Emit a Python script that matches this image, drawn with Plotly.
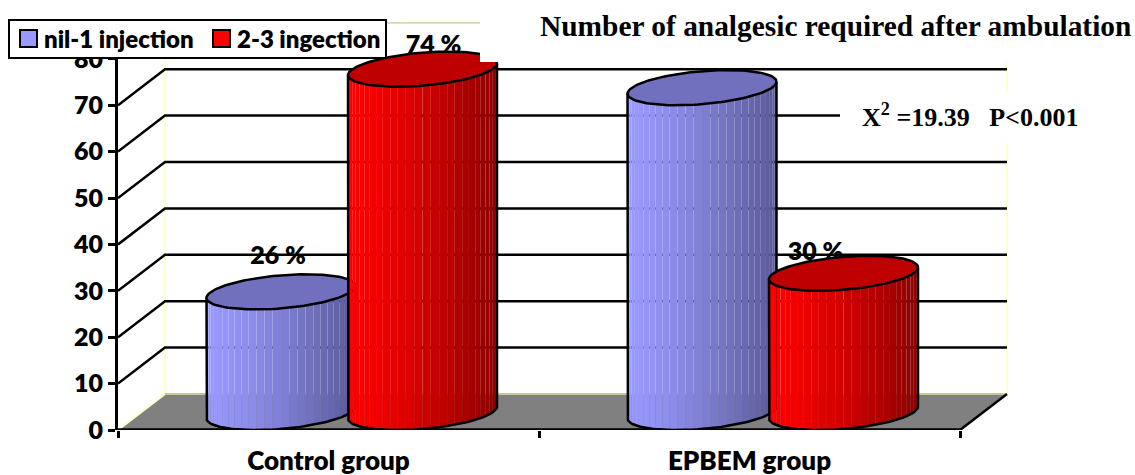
import math
import plotly.graph_objects as go

categories = ["Control group", "EPBEM group"]
series_names = ["nil-1 injection", "2-3 ingection"]
nil_values = [26, 70]
high_values = [74, 30]
y_ticks = [0, 10, 20, 30, 40, 50, 60, 70, 80]
grid_values = [10, 20, 30, 40, 50, 60, 70]
bar_labels = {(0, 0): "26 %", (1, 0): "74 %", (1, 1): "30 %"}

W, H = 1135, 475
L, R, T, B = 118, 127, 22, 45
PX_X = 421.0
PX_Y = 4.64
XMIN = -0.5
XMAX = XMIN + (W - L - R) / PX_X
YMAX = (H - T - B) / PX_Y
DX = 47 / PX_X
DY = 36 / PX_Y
BASE = 17.5 / PX_Y
A = 74.5 / PX_X
B_PX = 16.5
SHEAR = 6.0
OFFS = [-47.5 / PX_X, 94.0 / PX_X]   # series offset from category centre
N = 28
PALETTE = [
    dict(light=(153, 153, 255), dark=(88, 88, 150), top="#7070BE"),
    dict(light=(255, 0, 0), dark=(140, 0, 0), top="#BF0000"),
]
LABEL_FONT = dict(family="Lato", color="black", weight=800)


def px(v):
    return (v - L) / (W - L - R)


def py(v):
    return (H - B - v) / (H - T - B)


def ell(cx, level, t):
    xv = cx + A * math.cos(t)
    yv = level + BASE - (B_PX * math.sin(t) - SHEAR * math.cos(t)) / PX_Y
    return xv, yv


fig = go.Figure()


def line(xs, ys, color, width):
    fig.add_trace(go.Scatter(x=xs, y=ys, mode="lines", line=dict(color=color, width=width),
                             showlegend=False, hoverinfo="skip"))


x0 = XMIN
x1 = XMIN + 2.0
# floor
fig.add_trace(go.Scatter(x=[x0, x0 + DX, x1 + DX, x1, x0], y=[0, DY, DY, 0, 0], mode="lines",
                         fill="toself", fillcolor="#808080", line=dict(width=0),
                         showlegend=False, hoverinfo="skip"))
# walls
line([x0, x0 + DX, x0 + DX], [0, DY, 80 + DY], "#FFFFCC", 2)
line([x1 + DX, x1 + DX], [DY, 70 + DY + 1.5], "#FFFFCC", 2)
line([x0 + DX, x1 + DX], [DY, DY], "#C8C890", 2)
line([x0 + DX, XMIN + (480 - L) / PX_X], [80 + DY, 80 + DY], "#DADAA8", 2)
# grid
gx, gy = [], []
for v in grid_values:
    gx += [x0, x0 + DX, x1 + DX, None]
    gy += [v, v + DY, v + DY, None]
line(gx, gy, "black", 2.5)
# floor edges
line([x1, x1 + DX], [0, DY], "black", 2.5)
line([x0, x1], [0, 0], "black", 3.5)

# labels beneath the cylinders
label_shift = {(0, 0): (-3, 11.2), (1, 0): (11, 8.6), (1, 1): (-28, 8.0)}
all_values = [nil_values, high_values]
for (s, c), text in bar_labels.items():
    dxp, dyv = label_shift[(s, c)]
    fig.add_trace(go.Scatter(
        x=[c + OFFS[s] + dxp / PX_X], y=[all_values[s][c] + dyv],
        mode="text", text=[text], textposition="middle center",
        textfont=dict(size=25, **LABEL_FONT),
        showlegend=False, hoverinfo="skip", cliponaxis=False))


def shade(p, f):
    return "rgb(%d,%d,%d)" % tuple(round(a + (b - a) * f) for a, b in zip(p["light"], p["dark"]))


for c in range(2):
    for s in range(2):
        v = all_values[s][c]
        p = PALETTE[s]
        cx = c + OFFS[s]
        # body strips, left to right
        for i in range(N):
            t1 = math.pi - math.pi * i / N
            t2 = math.pi - math.pi * (i + 1) / N
            a1 = ell(cx, 0, t1)
            a2 = ell(cx, 0, t2)
            b1 = ell(cx, v, t1)
            b2 = ell(cx, v, t2)
            f = ((a1[0] + a2[0]) / 2 - (cx - A)) / (2 * A)
            fig.add_trace(go.Scatter(
                x=[a1[0], a2[0], b2[0], b1[0], a1[0]], y=[a1[1], a2[1], b2[1], b1[1], a1[1]],
                mode="lines", fill="toself", fillcolor=shade(p, f ** 1.3),
                line=dict(width=0), showlegend=False, hoverinfo="skip"))
        # outline of sides and base
        ox, oy = [], []
        ts = [math.pi - math.pi * k / 60 for k in range(61)]
        ox.append(ell(cx, v, math.pi)[0]); oy.append(ell(cx, v, math.pi)[1])
        for t in ts:
            q = ell(cx, 0, t)
            ox.append(q[0]); oy.append(q[1])
        q = ell(cx, v, 0)
        ox.append(q[0]); oy.append(q[1])
        line(ox, oy, "black", 2.5)
        # top
        ex, ey = [], []
        for k in range(121):
            q = ell(cx, v, 2 * math.pi * k / 120)
            ex.append(q[0]); ey.append(q[1])
        fig.add_trace(go.Scatter(x=ex, y=ey, mode="lines", fill="toself", fillcolor=p["top"],
                                 line=dict(color="black", width=2.5), showlegend=False,
                                 hoverinfo="skip"))


def rect(a, b, c, d, fill, lw=0):
    return dict(type="rect", xref="paper", yref="paper", x0=px(a), x1=px(b), y0=py(d), y1=py(c),
                fillcolor=fill, line=dict(width=lw, color="black"), layer="above")


shapes = [
    rect(840, 1012, 91, 143, "white"),
    rect(480, 500, 40, 62, "white"),
    # legend box and swatches
    rect(9, 386, 20, 58, "white", 2),
    rect(20, 37, 30, 47, "rgb(%d,%d,%d)" % PALETTE[0]["light"], 2),
    rect(213, 230, 30, 47, "rgb(%d,%d,%d)" % PALETTE[1]["light"], 2),
]

for name, tx in zip(series_names, [44, 237]):
    fig.add_annotation(xref="paper", yref="paper", x=px(tx), y=py(39), xanchor="left",
                       yanchor="middle", text=name, showarrow=False, xshift=-1,
                       font=dict(size=24, **LABEL_FONT), borderpad=0)

fig.add_annotation(xref="paper", yref="paper", x=px(860), y=py(116), xanchor="left", yanchor="middle",
                   text="X<sup>2</sup> =19.39\u00a0\u00a0\u00a0P&lt;0.001", showarrow=False,
                   font=dict(family="Liberation Serif", size=26, color="black", weight=700))

fig.update_layout(
    width=W, height=H,
    margin=dict(l=L, r=R, t=T, b=B, pad=0),
    paper_bgcolor="white", plot_bgcolor="white",
    showlegend=False,
    title=dict(text="Number of analgesic required after ambulation", x=540 / W, xanchor="left",
               y=1 - 26 / H, yanchor="middle",
               font=dict(family="Liberation Serif", size=29.4, color="black", weight=700)),
    shapes=shapes,
    xaxis=dict(range=[XMIN, XMAX], showgrid=False, zeroline=False, showline=False, automargin=False,
               tickmode="array", tickvals=[0, 1], ticktext=categories, ticks="",
               tickfont=dict(size=26, **LABEL_FONT),
               ticklabelstandoff=13,
               minor=dict(tickmode="array", tickvals=[-0.5, 0.5, 1.5], ticks="outside",
                          ticklen=7, tickwidth=2.5, tickcolor="black", showgrid=False)),
    yaxis=dict(range=[0, YMAX], showgrid=False, zeroline=False, showline=True, automargin=False,
               linecolor="black", linewidth=3, tickmode="array", tickvals=y_ticks,
               ticks="outside", ticklen=7, tickwidth=2.5, tickcolor="black",
               tickfont=dict(size=25, **LABEL_FONT)),
)

fig.write_html("out.html", post_script="document.body.style.margin='0';",
               config={"displayModeBar": False})
